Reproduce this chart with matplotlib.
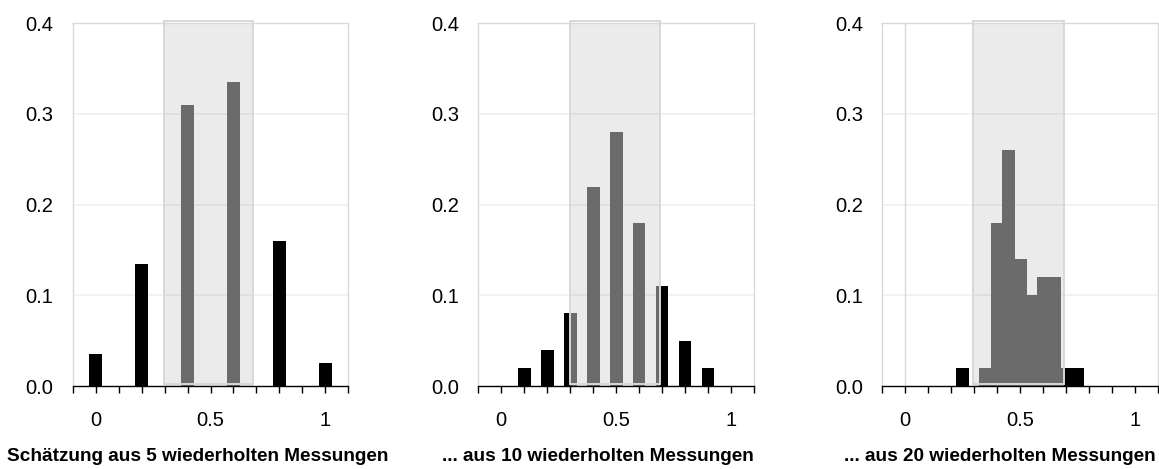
import numpy as np
import matplotlib
matplotlib.use("Agg")
import matplotlib.pyplot as plt
from matplotlib.patches import Rectangle

plt.rcParams['font.family'] = ['Liberation Sans', 'DejaVu Sans']

# ---- data -------------------------------------------------------------
means_5 = [0.0, 0.2, 0.4, 0.6, 0.8, 1.0]
freq_5 = [0.035, 0.135, 0.31, 0.335, 0.16, 0.025]

means_10 = [0.0, 0.1, 0.2, 0.3, 0.4, 0.5, 0.6, 0.7, 0.8, 0.9, 1.0]
freq_10 = [0.0, 0.02, 0.04, 0.08, 0.22, 0.28, 0.18, 0.11, 0.05, 0.02, 0.0]

means_20 = [0.0, 0.05, 0.1, 0.15, 0.2, 0.25, 0.3, 0.35, 0.4, 0.45, 0.5,
            0.55, 0.6, 0.65, 0.7, 0.75, 0.8, 0.85, 0.9, 0.95, 1.0]
freq_20 = [0.0, 0.0, 0.0, 0.0, 0.0, 0.02, 0.0, 0.02, 0.18, 0.26, 0.14,
           0.10, 0.12, 0.12, 0.02, 0.02, 0.0, 0.0, 0.0, 0.0, 0.0]

region_lo = [0.298, 0.298, 0.295]
region_hi = [0.686, 0.692, 0.692]

titles = ["Schätzung aus 5 wiederholten Messungen",
          "... aus 10 wiederholten Messungen",
          "... aus 20 wiederholten Messungen"]

x_major = [0, 0.5, 1]
x_major_labels = ["0", "0.5", "1"]
y_ticks = [0.0, 0.1, 0.2, 0.3, 0.4]
y_labels = ["0.0", "0.1", "0.2", "0.3", "0.4"]

# ---- figure -----------------------------------------------------------
W, H = 1159, 469
fig = plt.figure(figsize=(W / 100, H / 100), dpi=100)

ax_left_px = [72.7, 478.3, 882.3]
ax_w_px = 275.6
ax_top_px, ax_bot_px = 23.3, 386.0
label_xfrac = [0.453, 0.434, 0.428]

datasets = [(means_5, freq_5), (means_10, freq_10), (means_20, freq_20)]

BAR_W = 0.056
GRAY = '#6b6b6b'
SHADE = '#ebebeb'
SHADE_EDGE = '#d8d8d8'
SPINE = '#d9d9d9'

for i, (xs, ys) in enumerate(datasets):
    ax = fig.add_axes([ax_left_px[i] / W, (H - ax_bot_px) / H,
                       ax_w_px / W, (ax_bot_px - ax_top_px) / H])
    ax.set_xlim(-0.1, 1.1)
    ax.set_ylim(0, 0.4)

    lo, hi = region_lo[i], region_hi[i]
    # shaded region fill
    ax.add_patch(Rectangle((lo, 0), hi - lo, 0.4, facecolor=SHADE,
                           edgecolor='none', zorder=1))
    # gridlines
    for yv in [0.1, 0.2, 0.3]:
        ax.axhline(yv, color='black', alpha=0.06, lw=1.2, zorder=2)
    if i == 2:
        ax.axvline(0, color=SPINE, lw=1.0, zorder=2)

    # black bars
    ax.bar(xs, ys, width=BAR_W, color='black', linewidth=0, zorder=3)
    # gray bars clipped to region
    bars = ax.bar(xs, ys, width=BAR_W, color=GRAY, linewidth=0, zorder=4)
    clip = Rectangle((lo, 0), hi - lo, 0.4, transform=ax.transData)
    for p in bars.patches:
        p.set_clip_path(clip)
    # region outline
    ax.add_patch(Rectangle((lo, 0.002), hi - lo, 0.4, facecolor='none',
                           edgecolor=SHADE_EDGE, lw=1.4, zorder=5,
                           clip_on=False))

    # spines
    for s in ['top', 'left', 'right']:
        ax.spines[s].set_color(SPINE)
        ax.spines[s].set_linewidth(1.0)
    ax.spines['bottom'].set_color('black')
    ax.spines['bottom'].set_linewidth(1.0)
    ax.spines['bottom'].set_zorder(6)

    # ticks
    ax.set_xticks(x_major)
    ax.set_xticklabels(x_major_labels)
    ax.set_xticks(np.round(np.arange(-0.1, 1.101, 0.1), 2), minor=True)
    ax.tick_params(axis='x', which='both', direction='out', length=5,
                   width=1, color='black')
    ax.tick_params(axis='x', which='major', labelsize=14.5, pad=13)
    ax.set_yticks(y_ticks)
    ax.set_yticklabels(y_labels)
    ax.tick_params(axis='y', length=0, labelsize=14.5, pad=14)

    ax.text(label_xfrac[i], -0.206, titles[i], transform=ax.transAxes,
            ha='center', va='baseline', fontsize=13.7, fontweight='bold')

fig.savefig('out.png', dpi=100)
